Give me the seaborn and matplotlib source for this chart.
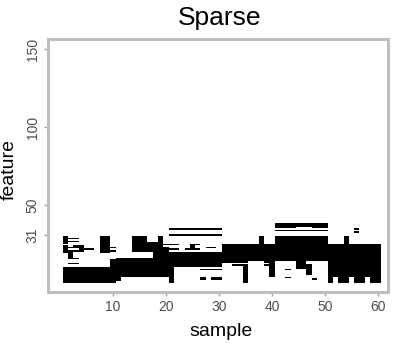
import numpy as np
import pandas as pd
import seaborn as sns
import matplotlib
matplotlib.use("Agg")
from matplotlib import pyplot as plt
from matplotlib.colors import ListedColormap

sns.set_style("white")
plt.rcParams["font.family"] = ["Liberation Sans", "DejaVu Sans"]

n_features = 150
n_samples = 60

# non-zero entries of the sparse matrix, as blocks:
# (first sample, last sample, first feature, last feature)
nonzero_blocks = [
    # bottom left block
    (1, 9, 1, 10), (10, 10, 1, 15), (11, 11, 2, 15),
    # left cluster
    (1, 1, 26, 30), (1, 1, 20, 24),
    (2, 3, 29, 29), (2, 3, 27, 27),
    (3, 4, 24, 24), (2, 4, 23, 23), (4, 6, 22, 22), (2, 4, 21, 21),
    (2, 2, 16, 20), (2, 3, 16, 16), (2, 3, 13, 13),
    (8, 9, 20, 30), (10, 10, 21, 21), (10, 10, 23, 23),
    (14, 16, 21, 30), (17, 18, 21, 26), (19, 19, 21, 30),
    (20, 20, 21, 23), (20, 20, 25, 25),
    (21, 22, 25, 25), (21, 22, 22, 22),
    (24, 26, 22, 22), (25, 26, 25, 25), (25, 25, 22, 25),
    (28, 29, 23, 23),
    # top lines
    (21, 30, 35, 35), (21, 30, 31, 31),
    (41, 50, 37, 38), (41, 44, 36, 36), (48, 50, 36, 36),
    (41, 50, 34, 34), (41, 50, 26, 30),
    (54, 54, 26, 30), (56, 56, 33, 33), (56, 56, 35, 35),
    (38, 38, 25, 30),
    # band
    (11, 21, 5, 16), (18, 21, 17, 20), (21, 21, 1, 4),
    (22, 30, 11, 20),
    (31, 50, 15, 25),
    (51, 60, 5, 25),
    (51, 51, 1, 4), (53, 54, 1, 4), (56, 57, 1, 4), (59, 60, 1, 4),
    # below the band
    (27, 28, 9, 9), (29, 30, 9, 9), (27, 27, 3, 4), (29, 30, 3, 4),
    (31, 32, 14, 14),
    (33, 35, 14, 14), (33, 35, 12, 12), (35, 35, 1, 12),
    (39, 40, 14, 14), (39, 40, 12, 12), (40, 40, 5, 15),
    (43, 43, 9, 9), (43, 43, 4, 4),
    (45, 46, 10, 14), (47, 47, 6, 12), (48, 48, 3, 3),
]

x_ticks = [10, 20, 30, 40, 50, 60]
y_ticks = [31, 50, 100, 150]

mat = np.zeros((n_features, n_samples))
for s1, s2, f1, f2 in nonzero_blocks:
    mat[f1 - 1:f2, s1 - 1:s2] = 1

df = pd.DataFrame(mat, index=range(1, n_features + 1), columns=range(1, n_samples + 1))

fig = plt.figure(figsize=(4.01, 3.45), dpi=100)
ax = fig.add_axes([48 / 401, 1 - 291.5 / 345, (387.5 - 48) / 401, (291.5 - 39) / 345])

sns.heatmap(df, cmap=ListedColormap(["white", "black"]), cbar=False, ax=ax,
            xticklabels=False, yticklabels=False, vmin=0, vmax=1)

ax.set_xlim(-2.76, 61.3)
ax.set_ylim(-5.5, 155.9)

ax.set_xticks([t - 0.5 for t in x_ticks])
ax.set_xticklabels([str(t) for t in x_ticks])
ax.set_yticks([t - 0.5 for t in y_ticks])
ax.set_yticklabels([str(t) for t in y_ticks], rotation=90, va="center")

ax.tick_params(axis="both", length=3, width=1, color="#A0A0A0",
               labelcolor="#4D4D4D", labelsize=10, pad=3)
ax.tick_params(left=True, bottom=True)

for sp in ax.spines.values():
    sp.set_visible(True)
    sp.set_color("#BEBEBE")
    sp.set_linewidth(2.2)

ax.set_xlabel("")
ax.set_ylabel("")

fig.text(220 / 401, 1 - 25 / 345, "Sparse", fontsize=19, color="black", ha="center", va="baseline")
fig.text(221 / 401, 1 - 336 / 345, "sample", fontsize=14, color="black", ha="center", va="baseline")
fig.text(9.5 / 401, 1 - 170 / 345, "feature", fontsize=14, color="black", ha="center", va="center", rotation=90)

fig.savefig("out.png", dpi=100)
